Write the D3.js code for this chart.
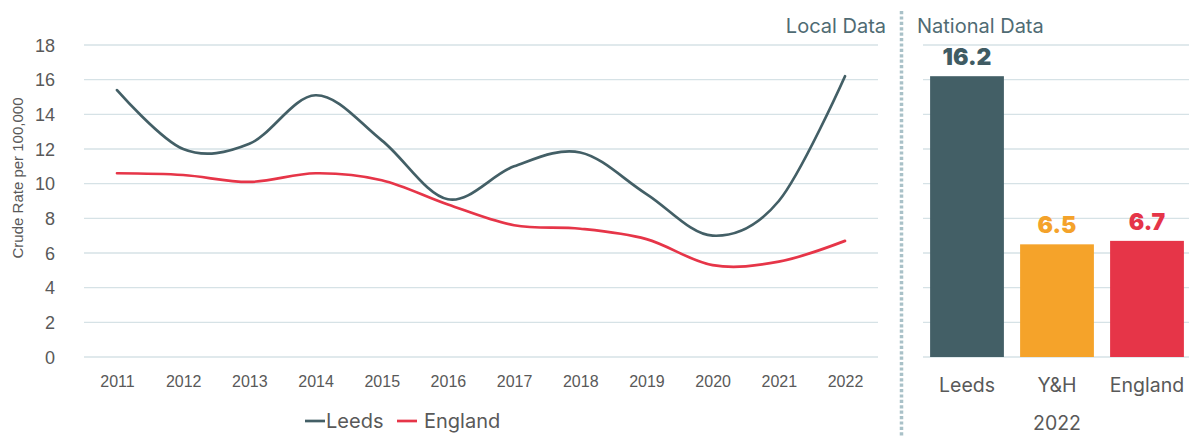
<!DOCTYPE html>
<html>
<head>
<meta charset="utf-8">
<script src="https://cdn.jsdelivr.net/npm/d3@7"></script>
<style>
  html, body { margin: 0; padding: 0; background: #ffffff; }
  svg { display: block; }
</style>
</head>
<body>
<svg id="chart" width="1189" height="437"></svg>
<script>
// Annual crude rate per 100,000, 2011–2022
const years = ["2011","2012","2013","2014","2015","2016","2017","2018","2019","2020","2021","2022"];
const leedsRate   = [15.4, 12.0, 12.3, 15.1, 12.5, 9.1, 11.0, 11.8, 9.4, 7.0, 9.0, 16.2];
const englandRate = [10.6, 10.5, 10.1, 10.6, 10.2, 8.8, 7.6, 7.4, 6.8, 5.3, 5.5, 6.7];

// 2022 comparison
const areas = ["Leeds", "Y&H", "England"];
const areaRate2022 = [16.2, 6.5, 6.7];

const yTicks = [0, 2, 4, 6, 8, 10, 12, 14, 16, 18];

const C = {
  leeds: "#435f66",
  yh: "#f5a32a",
  england: "#e63548",
  grid: "#d6e2e6",
  text: "#595959",
  divider: "#a9c1c8",
  heading: "#4f6b73"
};
const areaColours = [C.leeds, C.yh, C.england];
const labelColours = ["#3f5b63", "#f4a22a", "#e53548"];

const svg = d3.select("#chart");
const axisFont = "'Liberation Sans', Arial, sans-serif";
const labelFont = "Inter, Lato, sans-serif";

// Shared value scale (both panels use the same 0–18 range)
const y = d3.scaleLinear().domain([0, 18]).range([357, 45]);

// ---------- Left panel: line chart ----------
const x = d3.scalePoint().domain(years).range([117, 845]);
const leftX0 = 84, leftX1 = 878;

const gLeft = svg.append("g");

gLeft.append("g").selectAll("line")
  .data(yTicks).join("line")
  .attr("x1", leftX0).attr("x2", leftX1)
  .attr("y1", d => y(d)).attr("y2", d => y(d))
  .attr("stroke", C.grid).attr("stroke-width", 1.3);

// y axis labels
const yAxis = d3.axisLeft(y).tickValues(yTicks).tickSize(0).tickPadding(0);
gLeft.append("g")
  .attr("transform", "translate(55,0)")
  .call(yAxis)
  .call(g => g.select(".domain").remove())
  .call(g => g.selectAll("text")
    .attr("font-family", axisFont).attr("font-size", 18)
    .attr("fill", C.text).attr("dy", "0.35em"));

// x axis labels
const xAxis = d3.axisBottom(x).tickSize(0).tickPadding(0);
gLeft.append("g")
  .attr("transform", "translate(0,381)")
  .call(xAxis)
  .call(g => g.select(".domain").remove())
  .call(g => g.selectAll("text")
    .attr("font-family", axisFont).attr("font-size", 16)
    .attr("fill", C.text).attr("dy", "0.35em"));

// axis title
gLeft.append("text")
  .attr("transform", "translate(23,178) rotate(-90)")
  .attr("text-anchor", "middle")
  .attr("font-family", axisFont).attr("font-size", 15)
  .attr("fill", C.text)
  .text("Crude Rate per 100,000");

const line = d3.line()
  .x((d, i) => x(years[i]))
  .y(d => y(d))
  .curve(d3.curveCardinal.tension(0));

gLeft.append("path")
  .datum(englandRate)
  .attr("d", line)
  .attr("fill", "none").attr("stroke", C.england)
  .attr("stroke-width", 2.7).attr("stroke-linecap", "round");

gLeft.append("path")
  .datum(leedsRate)
  .attr("d", line)
  .attr("fill", "none").attr("stroke", C.leeds)
  .attr("stroke-width", 2.7).attr("stroke-linecap", "round");

// legend
const legendItems = [
  { name: "Leeds", colour: C.leeds, x: 305, gap: 21 },
  { name: "England", colour: C.england, x: 397, gap: 27 }
];
const lg = svg.append("g").selectAll("g").data(legendItems).join("g")
  .attr("transform", d => `translate(${d.x},421)`);
lg.append("line").attr("x1", 0).attr("x2", 20).attr("y1", 0).attr("y2", 0)
  .attr("stroke", d => d.colour).attr("stroke-width", 2.7);
lg.append("text")
  .attr("x", d => d.gap)
  .attr("y", 0).attr("dy", "0.36em")
  .attr("font-family", labelFont).attr("font-size", 20)
  .attr("fill", C.text)
  .text(d => d.name);

// section heading
svg.append("text")
  .attr("x", 886).attr("y", 33)
  .attr("text-anchor", "end")
  .attr("font-family", labelFont).attr("font-size", 20)
  .attr("fill", C.heading)
  .text("Local Data");

// dotted divider
svg.append("line")
  .attr("x1", 901.5).attr("x2", 901.5)
  .attr("y1", 11).attr("y2", 437)
  .attr("stroke", C.divider).attr("stroke-width", 3.5)
  .attr("stroke-dasharray", "3.2,2.2");

// ---------- Right panel: 2022 bar chart ----------
svg.append("text")
  .attr("x", 917).attr("y", 33)
  .attr("font-family", labelFont).attr("font-size", 20)
  .attr("fill", C.heading)
  .text("National Data");

const xb = d3.scaleBand().domain(areas).range([922, 1192])
  .paddingInner(0.18).paddingOuter(0.09);

const gRight = svg.append("g");
gRight.append("g").selectAll("line")
  .data(yTicks).join("line")
  .attr("x1", 923).attr("x2", 1189)
  .attr("y1", d => y(d)).attr("y2", d => y(d))
  .attr("stroke", C.grid).attr("stroke-width", 1.3);

gRight.append("g").selectAll("rect")
  .data(areas).join("rect")
  .attr("x", d => xb(d))
  .attr("width", xb.bandwidth())
  .attr("y", (d, i) => y(areaRate2022[i]))
  .attr("height", (d, i) => y(0) - y(areaRate2022[i]))
  .attr("fill", (d, i) => areaColours[i]);

gRight.append("g").selectAll("text")
  .data(areas).join("text")
  .attr("x", d => xb(d) + xb.bandwidth() / 2)
  .attr("y", (d, i) => y(areaRate2022[i]) - 11)
  .attr("text-anchor", "middle")
  .attr("font-family", labelFont).attr("font-weight", 900).attr("font-size", 23)
  .attr("fill", (d, i) => labelColours[i])
  .text((d, i) => d3.format(".1f")(areaRate2022[i]));

const xbAxis = d3.axisBottom(xb).tickSize(0).tickPadding(0);
gRight.append("g")
  .attr("transform", "translate(0,385)")
  .call(xbAxis)
  .call(g => g.select(".domain").remove())
  .call(g => g.selectAll("text")
    .attr("font-family", labelFont).attr("font-size", 19.5)
    .attr("fill", C.text).attr("dy", "0.35em"));

gRight.append("text")
  .attr("x", xb("Y&H") + xb.bandwidth() / 2).attr("y", 430)
  .attr("text-anchor", "middle")
  .attr("font-family", labelFont).attr("font-size", 19.5)
  .attr("fill", C.text)
  .text("2022");
</script>
</body>
</html>
